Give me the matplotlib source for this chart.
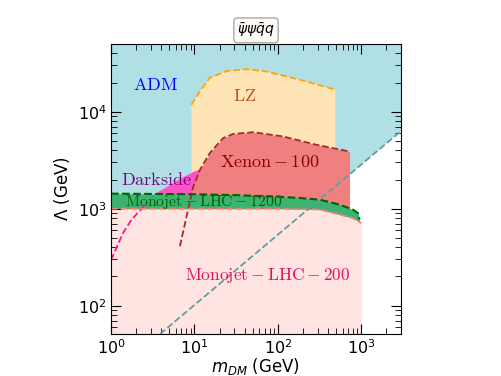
import numpy as np
import matplotlib
matplotlib.use('Agg')
import matplotlib.pyplot as plt

#%% limits (m_DM in GeV, Lambda in GeV)
lz_m = [9.2, 11.6, 15.3, 24.3, 42.2, 73.3, 183, 490]
lz_lam = [11800, 16200, 22400, 26300, 27500, 26000, 21400, 16900]

xenon_m = [6.7, 8.4, 9.7, 11.6, 15.3, 22.1, 29.2, 50.6, 116, 288, 725]
xenon_lam = [410, 980, 1700, 2500, 3750, 5350, 5900, 6150, 5560, 4570, 3890]

darkside_m = [1.0, 1.39, 1.77, 2.75, 3.37, 4.64, 6.7, 9.7, 11.6, 20, 30]
darkside_lam = [295, 560, 775, 1170, 1450, 1700, 2070, 2430, 2570, 2750, 2850]

mono1200_m = [1, 10, 31.6, 100, 183, 318, 553, 794, 916, 955]
mono1200_lam = [1430, 1410, 1380, 1330, 1290, 1240, 1100, 980, 900, 775]

mono200_m = [1, 10, 31.6, 100, 183, 318, 553, 794, 1000]
mono200_lam = [1000, 1000, 1000, 1000, 990, 980, 870, 800, 710]

# cadetblue boundary of the ADM region
adm_m = [3.87, 116, 2970]
adm_lam = [51, 600, 6270]

xlim = (1, 3000)
ylim = (51, 50000)

#%%
fig = plt.figure(figsize=(5.01, 3.76), dpi=100)
ax = fig.add_axes([0.2216, 0.1117, 0.5788, 0.7713])
ax.set_xscale('log')
ax.set_yscale('log')

# ADM region above the dashed line
adm_x = np.logspace(0, np.log10(xlim[1]), 200)
adm_y = np.interp(np.log10(adm_x), np.log10(adm_m), np.log10(adm_lam))
ax.fill_between(adm_x, 10**adm_y, 1e6, color='powderblue', lw=0)

def fill_curve(m, lam, color):
    # fill from the bottom of the plot up to the curve
    ax.fill_between(m, 1, lam, color=color, lw=0)

fill_curve(lz_m, lz_lam, 'moccasin')
fill_curve(darkside_m, darkside_lam, '#F956C4')
fill_curve(xenon_m, xenon_lam, 'lightcoral')
fill_curve(mono1200_m, mono1200_lam, 'mediumseagreen')
fill_curve(mono200_m, mono200_lam, 'mistyrose')

# dashed edges (darkside edge only shows below the monojet band)
ax.plot(lz_m, lz_lam, '--', color='orange', lw=1.3)
ax.plot(darkside_m[:4], darkside_lam[:4], '--', color='deeppink', lw=1.3)
ax.plot(xenon_m, xenon_lam, '--', color='brown', lw=1.3)
ax.plot(mono1200_m, mono1200_lam, '--', color='darkgreen', lw=1.5)
ax.plot(mono200_m, mono200_lam, '--', color='salmon', lw=1.3)
ax.plot(adm_m, adm_lam, '--', color='cadetblue', lw=1.3)

# labels in the regions
lab = dict(fontsize=13, math_fontfamily='cm', va='center', ha='left')
ax.text(1.83, 19000, r'$\mathrm{ADM}$', color='blue', **lab)
ax.text(28.9, 14600, r'$\mathrm{LZ}$', color='#B5541C', **lab)
ax.text(20.2, 3050, r'$\mathrm{Xenon-100}$', color='darkred', **lab)
ax.text(1.32, 2000, r'$\mathrm{Darkside}$', color='purple', **lab)
ax.text(1.47, 1180, r'$\mathrm{Monojet-LHC-1200}$', color='darkgreen',
        fontsize=11.3, math_fontfamily='cm', va='center', ha='left')
ax.text(7.7, 204, r'$\mathrm{Monojet-LHC-200}$', color='#E0115F',
        fontsize=12.5, math_fontfamily='cm', va='center', ha='left')

ax.set_xlim(xlim)
ax.set_ylim(ylim)
ax.set_xlabel(r'$m_{DM}$ (GeV)', fontsize=12, labelpad=-0.5)
ax.set_ylabel(r'$\Lambda$ (GeV)', fontsize=12)
ax.tick_params(which='both', direction='in', top=True, right=True, labelsize=11.5)
ax.tick_params(which='major', length=7, pad=3)
ax.tick_params(which='minor', length=4)

ax.set_title(r'$\bar{\psi}\psi\bar{q}q$', fontsize=10, pad=7,
             bbox=dict(boxstyle='round,pad=0.25', fc='#FDFAF6', ec='darkgray'))

fig.savefig('out.png', dpi=100)
